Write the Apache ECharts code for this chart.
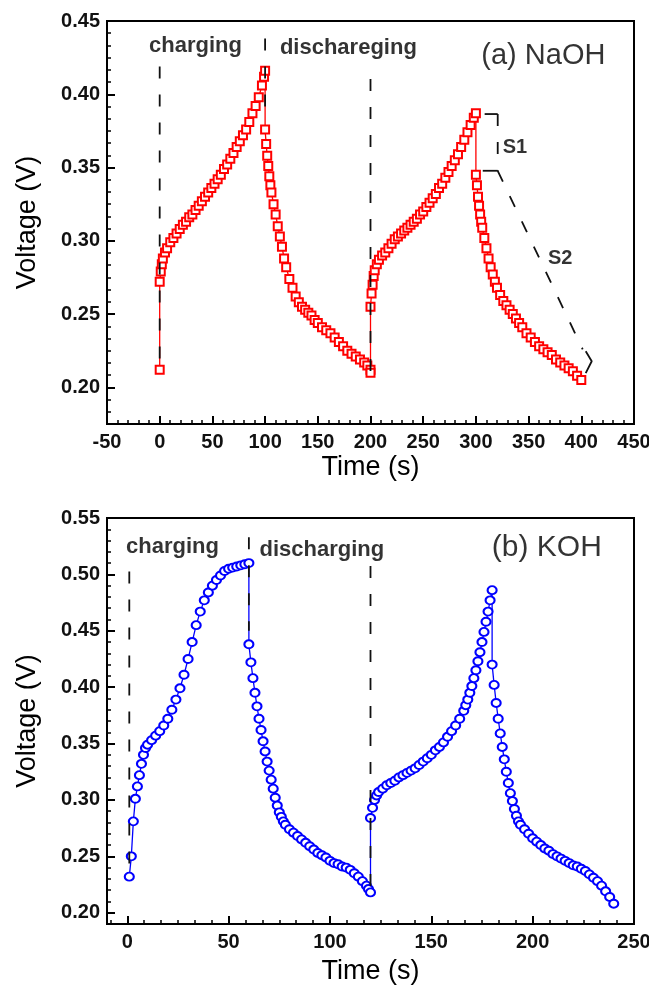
<!DOCTYPE html>
<html><head><meta charset="utf-8">
<script src="https://cdn.jsdelivr.net/npm/echarts@6/dist/echarts.min.js"></script>
<style>html,body{margin:0;padding:0;background:#fff}#c{width:649px;height:989px}</style>
</head><body><div id="c"></div>
<script>
// ---------- (a) NaOH data : [time (s), voltage (V)] ----------
const naohCharge1 = [[0,0.212],[0,0.272],[1,0.279],[2,0.284],[3,0.288],[5,0.292],[7,0.295],[10,0.299],[13,0.302],[16,0.305],[19,0.308],[22,0.311],[25,0.313],[28,0.316],[31,0.318],[34,0.321],[37,0.324],[40,0.327],[43,0.330],[46,0.333],[49,0.336],[52,0.339],[55,0.342],[58,0.345],[61,0.349],[64,0.352],[67,0.356],[70,0.360],[73,0.364],[76,0.368],[79,0.372],[82,0.376],[85,0.381],[88,0.387],[91,0.392],[94,0.398],[97,0.406],[99,0.412],[100,0.416]];
const naohDischarge1 = [[100,0.376],[101,0.366],[102,0.358],[103,0.351],[104,0.344],[105,0.338],[106,0.333],[108,0.325],[110,0.318],[112,0.310],[114,0.303],[116,0.296],[118,0.288],[120,0.282],[123,0.274],[126,0.268],[129,0.262],[132,0.258],[135,0.255],[138,0.253],[141,0.251],[144,0.249],[147,0.246],[150,0.244],[154,0.241],[158,0.239],[162,0.237],[166,0.234],[170,0.231],[174,0.228],[178,0.225],[182,0.223],[186,0.221],[190,0.219],[194,0.217],[197,0.215],[200,0.212]];
const naohCharge2 = [[200,0.210],[200,0.255],[201,0.264],[202,0.270],[203,0.276],[204,0.280],[206,0.284],[208,0.287],[211,0.290],[214,0.292],[217,0.295],[220,0.298],[223,0.301],[226,0.303],[229,0.305],[232,0.307],[235,0.309],[238,0.311],[241,0.313],[244,0.315],[247,0.318],[250,0.320],[253,0.323],[256,0.326],[259,0.329],[262,0.332],[265,0.336],[268,0.339],[271,0.343],[274,0.347],[277,0.351],[280,0.355],[283,0.359],[286,0.364],[289,0.369],[292,0.374],[295,0.379],[298,0.384],[300,0.387]];
const naohDischarge2 = [[300,0.345],[301,0.338],[302,0.330],[303,0.324],[304,0.318],[305,0.313],[306,0.309],[308,0.302],[310,0.295],[312,0.288],[314,0.282],[316,0.277],[318,0.272],[320,0.268],[323,0.263],[326,0.259],[329,0.256],[332,0.253],[335,0.250],[338,0.247],[341,0.244],[344,0.241],[348,0.237],[352,0.234],[356,0.231],[360,0.228],[364,0.226],[368,0.224],[372,0.222],[376,0.219],[380,0.217],[384,0.215],[388,0.213],[392,0.211],[396,0.208],[400,0.205]];

// ---------- (b) KOH data : [time (s), voltage (V)] ----------
const kohCharge1 = [[1,0.232],[2,0.250],[3,0.281],[4,0.301],[5,0.312],[6,0.322],[7,0.332],[8,0.340],[9,0.346],[10,0.349],[12,0.353],[14,0.357],[16,0.361],[18,0.366],[20,0.372],[22,0.380],[24,0.389],[26,0.399],[28,0.411],[30,0.425],[32,0.440],[34,0.455],[36,0.467],[38,0.477],[40,0.484],[42,0.490],[44,0.495],[46,0.499],[48,0.503],[50,0.505],[52,0.506],[54,0.507],[56,0.508],[58,0.509],[60,0.510]];
const kohDischarge1 = [[60,0.438],[61,0.422],[62,0.408],[63,0.395],[64,0.383],[65,0.372],[66,0.362],[67,0.352],[68,0.343],[69,0.334],[70,0.326],[71,0.318],[72,0.310],[73,0.302],[74,0.295],[75,0.289],[76,0.285],[77,0.281],[78,0.278],[80,0.274],[82,0.271],[84,0.268],[86,0.265],[88,0.262],[90,0.259],[92,0.256],[94,0.253],[96,0.251],[98,0.249],[100,0.246],[102,0.244],[104,0.243],[106,0.241],[108,0.240],[110,0.238],[112,0.235],[114,0.232],[116,0.228],[118,0.224],[119,0.221],[120,0.218]];
const kohCharge2 = [[120,0.284],[121,0.293],[122,0.300],[123,0.304],[124,0.307],[126,0.310],[128,0.313],[130,0.315],[132,0.317],[134,0.320],[136,0.322],[138,0.324],[140,0.326],[142,0.328],[144,0.331],[146,0.334],[148,0.337],[150,0.340],[152,0.344],[154,0.347],[156,0.351],[158,0.356],[160,0.361],[162,0.366],[164,0.372],[166,0.379],[167,0.384],[168,0.389],[169,0.395],[170,0.401],[171,0.408],[172,0.415],[173,0.423],[174,0.431],[175,0.440],[176,0.449],[177,0.458],[178,0.467],[179,0.477],[180,0.486]];
const kohDischarge2 = [[180,0.420],[181,0.402],[182,0.386],[183,0.372],[184,0.359],[185,0.347],[186,0.336],[187,0.325],[188,0.315],[189,0.306],[190,0.299],[191,0.292],[192,0.286],[193,0.281],[194,0.278],[196,0.274],[198,0.270],[200,0.266],[202,0.263],[204,0.260],[206,0.257],[208,0.255],[210,0.252],[212,0.250],[214,0.248],[216,0.246],[218,0.244],[220,0.242],[222,0.241],[224,0.239],[226,0.237],[228,0.234],[230,0.231],[232,0.228],[234,0.224],[236,0.219],[238,0.214],[240,0.208]];

// ---------- axis ticks ----------
const naohTimeTicks = [-50,0,50,100,150,200,250,300,350,400,450];
const naohVoltTicks = [0.20,0.25,0.30,0.35,0.40,0.45];
const kohTimeTicks = [0,50,100,150,200,250];
const kohVoltTicks = [0.20,0.25,0.30,0.35,0.40,0.45,0.50,0.55];

// ---------- annotations ----------
const naohDividers = [[0,0.419,0.214],[100,0.438,0.39],[200,0.4105,0.21]];
const kohDividers = [[1,0.5025,0.236],[60,0.533,0.45],[120,0.5075,0.218]];
const naohNotes = [['charging',34,0.433,22,'bold'],['dischareging',179,0.4316,22,'bold'],['(a) NaOH',364,0.426,29,'normal'],['S1',337,0.364,20,'bold'],['S2',380,0.288,20,'bold']];
const kohNotes = [['charging',22.3,0.5243,22,'bold'],['discharging',96,0.5216,22,'bold'],['(b) KOH',207,0.524,30,'normal']];
const s1Cap = [[308.3,0.3865],[320.7,0.3865]];
const s1Dash = [[320.7,0.3865],[320.7,0.3478]];
const s1Base = [[306.5,0.3478],[320.7,0.3478]];
const s2Dash = [[320.7,0.3478],[401.3,0.226]];
const s2Brace = [[404.2,0.2246],[409.9,0.2178],[404.2,0.2097]];

const FONT = 'Liberation Sans';
function minorList(min, max, step) {
  const out = [];
  const n0 = Math.ceil(min / step - 1e-6), n1 = Math.floor(max / step + 1e-6);
  for (let k = n0; k <= n1; k++) out.push(+(k * step).toFixed(6));
  return out;
}
function mainAxis(gi, min, max, ticks, name, gap, fmt, isX) {
  return {
    type: 'value', gridIndex: gi, min: min, max: max,
    position: isX ? 'bottom' : 'left',
    name: name, nameLocation: 'middle', nameGap: gap,
    nameTextStyle: { fontFamily: FONT, fontSize: 27, color: '#000' },
    axisLine: { show: true, onZero: false, lineStyle: { color: '#000', width: 2 } },
    axisTick: { show: true, inside: true, length: 8, customValues: ticks, lineStyle: { color: '#000', width: 2 } },
    axisLabel: { show: true, customValues: ticks, formatter: fmt, fontFamily: FONT, fontWeight: 'bold', fontSize: 20, color: '#111', margin: isX ? 8 : 7 },
    splitLine: { show: false }
  };
}
function minorAxis(gi, min, max, vals, isX) {
  return {
    type: 'value', gridIndex: gi, min: min, max: max,
    position: isX ? 'bottom' : 'left',
    axisLine: { show: false, onZero: false },
    axisTick: { show: true, inside: true, length: 4, customValues: vals, lineStyle: { color: '#000', width: 1.5 } },
    axisLabel: { show: false }, splitLine: { show: false }
  };
}
const volt = v => v.toFixed(2);
const intf = v => String(Math.round(v));

function dataSeries(xi, yi, data, sym, size, color, bw) {
  return { type: 'line', xAxisIndex: xi, yAxisIndex: yi, data: data, symbol: sym, symbolSize: size,
    showAllSymbol: true, lineStyle: { color: color, width: 1.3 }, itemStyle: { color: color, borderWidth: bw },
    silent: true, z: 3 };
}
function seg(xi, yi, data, dashed) {
  return { type: 'line', xAxisIndex: xi, yAxisIndex: yi, data: data, symbol: 'none', silent: true, z: 6,
    lineStyle: { color: '#111', width: 1.8, type: dashed ? [12, 16] : 'solid' } };
}
function notes(xi, yi, list) {
  return list.map(n => ({
    type: 'scatter', xAxisIndex: xi, yAxisIndex: yi, data: [[n[1], n[2]]], symbolSize: 0, silent: true, z: 7,
    itemStyle: { color: '#000' },
    label: { show: true, position: [0, 0], align: 'center', verticalAlign: 'middle', formatter: n[0],
      fontFamily: FONT, fontSize: n[3], fontWeight: n[4], color: '#000', textBorderWidth: 0 }
  }));
}

const series = [];
series.push(dataSeries(0, 0, naohCharge1.concat(naohDischarge1, naohCharge2, naohDischarge2), 'emptyRect', 8, '#ff0000', 2));
naohDividers.forEach(d => series.push(seg(0, 0, [[d[0], d[1]], [d[0], d[2]]], true)));
series.push(seg(0, 0, s1Cap, false));
series.push(seg(0, 0, s1Dash, true));
series.push(seg(0, 0, s1Base, false));
series.push(seg(0, 0, s2Dash, true));
series.push(seg(0, 0, s2Brace, false));
notes(0, 0, naohNotes).forEach(s => series.push(s));

series.push(dataSeries(2, 2, kohCharge1.concat(kohDischarge1, kohCharge2, kohDischarge2), 'emptyCircle', [9, 8], '#0000ff', 2.2));
kohDividers.forEach(d => series.push(seg(2, 2, [[d[0], d[1]], [d[0], d[2]]], true)));
notes(2, 2, kohNotes).forEach(s => series.push(s));

const option = {
  animation: false,
  backgroundColor: '#fff',
  grid: [
    { left: 107, top: 21, width: 527, height: 403, show: true, borderColor: '#000', borderWidth: 2, backgroundColor: 'transparent', outerBoundsMode: 'none' },
    { left: 107, top: 518, width: 527, height: 406, show: true, borderColor: '#000', borderWidth: 2, backgroundColor: 'transparent', outerBoundsMode: 'none' }
  ],
  xAxis: [
    mainAxis(0, -50, 450, naohTimeTicks, 'Time (s)', 30, intf, true),
    minorAxis(0, -50, 450, minorList(-50, 450, 10), true),
    mainAxis(1, -10, 250, kohTimeTicks, 'Time (s)', 34, intf, true),
    minorAxis(1, -10, 250, minorList(-10, 250, 50 / 6), true)
  ],
  yAxis: [
    mainAxis(0, 0.175, 0.45, naohVoltTicks, 'Voltage (V)', 66, volt, false),
    minorAxis(0, 0.175, 0.45, minorList(0.175, 0.45, 0.05 / 6), false),
    mainAxis(1, 0.19, 0.55, kohVoltTicks, 'Voltage (V)', 66, volt, false),
    minorAxis(1, 0.19, 0.55, minorList(0.19, 0.55, 0.01), false)
  ],
  series: series
};
const chart = echarts.init(document.getElementById('c'), null, { renderer: 'canvas' });
chart.setOption(option);
</script></body></html>
